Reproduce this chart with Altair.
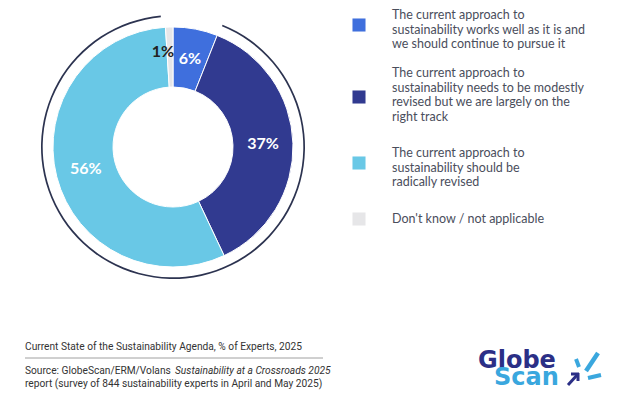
import altair as alt
import pandas as pd

# ---- data ----
categories = [
    "The current approach to\nsustainability works well as it is and\nwe should continue to pursue it",
    "The current approach to\nsustainability needs to be modestly\nrevised but we are largely on the\nright track",
    "The current approach to\nsustainability should be\nradically revised",
    "Don't know / not applicable",
]
values = [6, 37, 56, 1]
labels = ["6%", "37%", "56%", "1%"]
colors = ["#3f6fdd", "#313a90", "#69c8e6", "#e6e6e8"]
label_colors = ["#ffffff", "#ffffff", "#ffffff", "#222222"]

caption = "Current State of the Sustainability Agenda, % of Experts, 2025"
source_a = "Source: GlobeScan/ERM/Volans "
source_b = "Sustainability at a Crossroads 2025"
source_c = "report (survey of 844 sustainability experts in April and May 2025)"

# ---- layout (pixels in chart coordinates) ----
W, H = 604, 382
CX, CY = 165, 139
R_OUT, R_IN, R_LAB = 120, 60, 90
legend_sq_x = 351
legend_sq_y = [17, 89, 155, 211]
legend_txt_x = 384
legend_txt_top = [1, 59, 139, 205]

df = pd.DataFrame({
    "cat": categories,
    "value": values,
    "label": labels,
    "color": colors,
    "lcolor": label_colors,
    "order": list(range(len(values))),
})

theta = alt.Theta("value:Q", stack=True)
order = alt.Order("order:Q", sort="ascending")

donut = alt.Chart(df).mark_arc(
    outerRadius=R_OUT, innerRadius=R_IN, stroke="white", strokeWidth=1
).encode(
    theta=theta, order=order,
    color=alt.Color("color:N", scale=None),
    x=alt.value(CX), y=alt.value(CY),
)

main_labels = alt.Chart(df[df["order"] < 3]).mark_text(
    radius=R_LAB, font="Lato", fontSize=16, fontWeight="bold"
).encode(
    theta=theta, order=order, text="label:N",
    color=alt.Color("lcolor:N", scale=None),
    x=alt.value(CX), y=alt.value(CY),
)

small_label = alt.Chart(df[df["order"] == 3]).mark_text(
    font="Lato", fontSize=16, fontWeight="bold", color="#222222"
).encode(
    text="label:N",
    x=alt.value(CX - 10), y=alt.value(CY - 95),
)

bracket = alt.Chart(pd.DataFrame({"a": [0]})).mark_arc(
    outerRadius=132, innerRadius=130.3, color="#2c3350"
).encode(
    theta=alt.value(0.385), theta2=alt.value(6.19),
    x=alt.value(CX), y=alt.value(CY),
)

layers = [bracket, donut, main_labels, small_label]

for i in range(len(categories)):
    row = df.iloc[[i]]
    sq = alt.Chart(row).mark_square(size=170, opacity=1, filled=True).encode(
        color=alt.Color("color:N", scale=None),
        x=alt.value(legend_sq_x), y=alt.value(legend_sq_y[i]),
    )
    tx = alt.Chart(row).mark_text(
        align="left", baseline="top", lineBreak="\n", lineHeight=14.6,
        font="Lato", fontSize=12.5, color="#4a4e5c",
    ).encode(
        text="cat:N",
        x=alt.value(legend_txt_x), y=alt.value(legend_txt_top[i]),
    )
    layers += [sq, tx]

one = pd.DataFrame({"a": [0]})
cap_font = "Roboto"
cap_size = 10.2
cap = alt.Chart(one).mark_text(
    align="left", baseline="middle", font=cap_font, fontSize=cap_size, color="#333333"
).encode(text=alt.value(caption), x=alt.value(17), y=alt.value(339))

rule = alt.Chart(one).mark_rule(color="#a0a0a0", strokeWidth=1).encode(
    x=alt.value(17), x2=alt.value(315), y=alt.value(350)
)

src1 = alt.Chart(one).mark_text(
    align="left", baseline="middle", font=cap_font, fontSize=cap_size, color="#333333"
).encode(text=alt.value(source_a), x=alt.value(17), y=alt.value(363))
src2 = alt.Chart(one).mark_text(
    align="left", baseline="middle", font=cap_font, fontSize=cap_size, fontStyle="italic", color="#333333"
).encode(text=alt.value(source_b), x=alt.value(167), y=alt.value(363))
src3 = alt.Chart(one).mark_text(
    align="left", baseline="middle", font=cap_font, fontSize=cap_size, color="#333333"
).encode(text=alt.value(source_c), x=alt.value(17), y=alt.value(376))

logo1 = alt.Chart(one).mark_text(
    align="left", baseline="alphabetic", font="DejaVu Sans", fontSize=24, fontWeight="bold", color="#2b2f86"
).encode(text=alt.value("Globe"), x=alt.value(470), y=alt.value(360))
logo2 = alt.Chart(one).mark_text(
    align="left", baseline="alphabetic", font="DejaVu Sans", fontSize=24, fontWeight="bold", color="#3aa7de"
).encode(text=alt.value("Scan"), x=alt.value(486), y=alt.value(377))

LB = "#3aa7de"
NV = "#2b2f86"
spark_a = alt.Chart(one).mark_rule(color=LB, strokeWidth=4).encode(
    x=alt.value(568), x2=alt.value(571), y=alt.value(351), y2=alt.value(359))
spark_b = alt.Chart(one).mark_rule(color=LB, strokeWidth=4.5).encode(
    x=alt.value(590), x2=alt.value(578), y=alt.value(345), y2=alt.value(363))
spark_c = alt.Chart(one).mark_rule(color=LB, strokeWidth=4).encode(
    x=alt.value(580), x2=alt.value(593), y=alt.value(370), y2=alt.value(367))
arrow_a = alt.Chart(one).mark_rule(color=NV, strokeWidth=3).encode(
    x=alt.value(560), x2=alt.value(570), y=alt.value(377), y2=alt.value(366))
arrow_b = alt.Chart(one).mark_rule(color=NV, strokeWidth=3).encode(
    x=alt.value(563), x2=alt.value(571), y=alt.value(366), y2=alt.value(366))
arrow_c = alt.Chart(one).mark_rule(color=NV, strokeWidth=3).encode(
    x=alt.value(570), x2=alt.value(570), y=alt.value(365), y2=alt.value(373))

layers += [cap, rule, src1, src2, src3, logo1, logo2, spark_a, spark_b, spark_c, arrow_a, arrow_b, arrow_c]

chart = alt.layer(*layers).properties(
    width=W, height=H, padding=0, autosize="none"
).configure_view(stroke=None)

chart.save("out.html", embed_options={"renderer": "svg", "actions": False})
